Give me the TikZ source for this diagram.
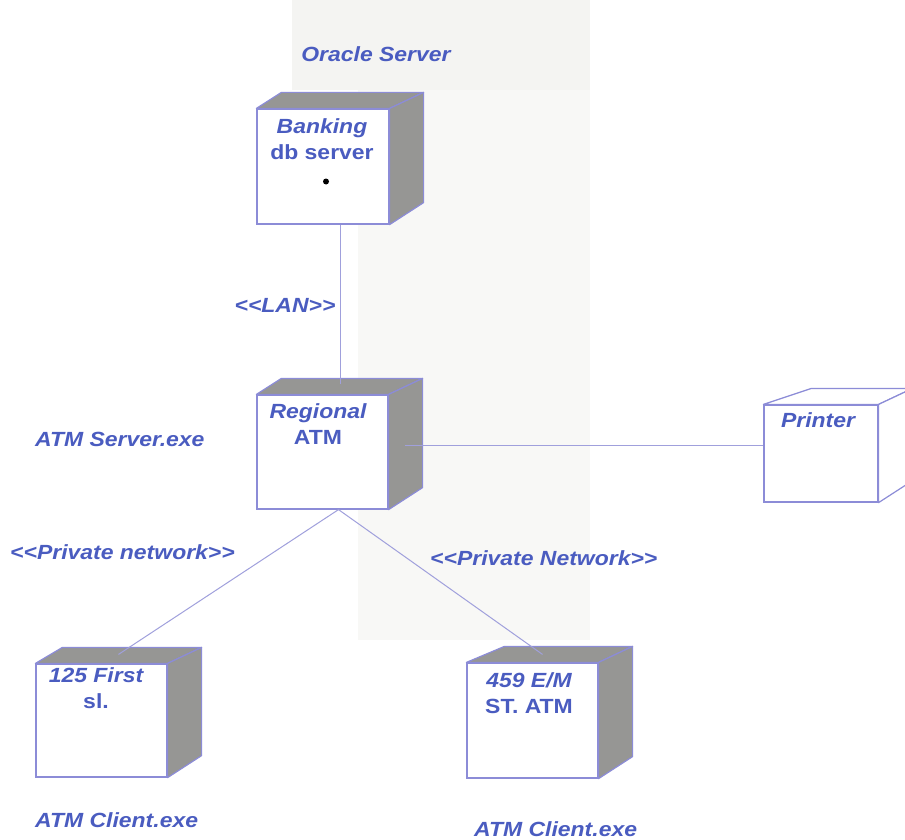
\documentclass[tikz,border=0pt]{standalone}
\usepackage{fontspec}
\setmainfont{Liberation Sans}[FakeStretch=1.12]
\usetikzlibrary{calc}
\definecolor{txtblue}{RGB}{74,92,192}
\definecolor{linecol}{RGB}{160,160,220}
\definecolor{edgecol}{RGB}{140,140,215}
\definecolor{facegray}{RGB}{150,150,148}
\definecolor{bandA}{RGB}{244,244,242}
\definecolor{bandB}{RGB}{248,248,246}
\tikzset{
  front/.style={draw=edgecol, line width=1.2pt, fill=white, inner sep=0pt, rectangle},
  face/.style={draw=edgecol, line width=1.2pt, line join=round},
  conn/.style={draw=linecol, line width=1pt},
  lbl/.style={text=txtblue, font=\fontsize{20.5}{26}\selectfont\bfseries\itshape, inner sep=0pt},
  boxlbl/.style={text=txtblue, font=\fontsize{20.5}{26}\selectfont\bfseries, inner sep=0pt, align=center, anchor=base}
}
\newcommand\cubefaces[3]{%
  \filldraw[face,fill=#3] (#1.north west) -- ++(#2,-16) -- ($(#1.north east)+(34,-16)$) -- (#1.north east) -- cycle;
  \filldraw[face,fill=#3] (#1.north east) -- ++(34,-16) -- ($(#1.south east)+(34,-22)$) -- (#1.south east) -- cycle;
}
\begin{document}
\begin{tikzpicture}[x=1pt,y=-1pt]
\clip (0,0) rectangle (905,840);
\fill[white] (0,0) rectangle (905,840);
% faint scan band
\fill[bandB] (358,0) rectangle (590,640);
\fill[bandA] (292,0) rectangle (590,90);
% boxes (front faces)
\node[front, minimum width=132pt, minimum height=115pt] (bank) at (323,166.5) {};
\node[front, minimum width=131pt, minimum height=114pt] (reg) at (322.5,452) {};
\node[front, minimum width=114pt, minimum height=97pt] (prn) at (821,453.5) {};
\node[front, minimum width=131pt, minimum height=113pt] (first) at (101.5,720.5) {};
\node[front, minimum width=131pt, minimum height=115pt] (atm) at (532.5,720.5) {};
\cubefaces{bank}{25}{facegray}
\cubefaces{reg}{25}{facegray}
\cubefaces{first}{27}{facegray}
\cubefaces{atm}{38}{facegray}
\cubefaces{prn}{48}{white}
\fill[black] ($(bank.center)+(3,15)$) circle (3);
% connectors
\coordinate (regtop) at ($(reg.north)+(18,-10)$);
\coordinate (regside) at ($(reg.east)+(16,-7)$);
\coordinate (regbot) at ($(reg.south)+(16,0)$);
\coordinate (firsttop) at ($(first.north)+(17,-9)$);
\coordinate (atmtop) at ($(atm.north)+(10,-8)$);
\draw[conn] (regtop |- bank.south) -- (regtop);
\draw[conn] (regside) -- (regside -| prn.west);
\draw[conn] (regbot) -- (firsttop);
\draw[conn] (regbot) -- (atmtop);
% box labels (anchor = baseline of last line)
\node[boxlbl] (bankT) at (322,160) {{\itshape Banking}\\db server};
\node[boxlbl] (regT) at (318,444) {{\itshape Regional}\\ATM};
\node[boxlbl] (prnT) at (818,427) {{\itshape Printer}};
\node[boxlbl] (firstT) at (96,708) {{\itshape 125 First}\\sl.};
\node[boxlbl] (atmT) at (529,713) {{\itshape 459 E/M}\\ST. ATM};
% outside labels
\node[lbl, anchor=base] (oracle) at (376,62) {Oracle Server};
\node[lbl, anchor=base] (lan) at (285,312) {<{}<LAN>{}>};
\node[lbl, anchor=base west] (atmsrv) at (35,446) {ATM Server.exe};
\node[lbl, anchor=base west] (pn1) at (10,559) {<{}<Private network>{}>};
\node[lbl, anchor=base west] (pn2) at (430,565) {<{}<Private Network>{}>};
\node[lbl, anchor=base west] (cl1) at (35,827) {ATM Client.exe};
\node[lbl, anchor=base west] (cl2) at (474,836) {ATM Client.exe};
\end{tikzpicture}
\end{document}
